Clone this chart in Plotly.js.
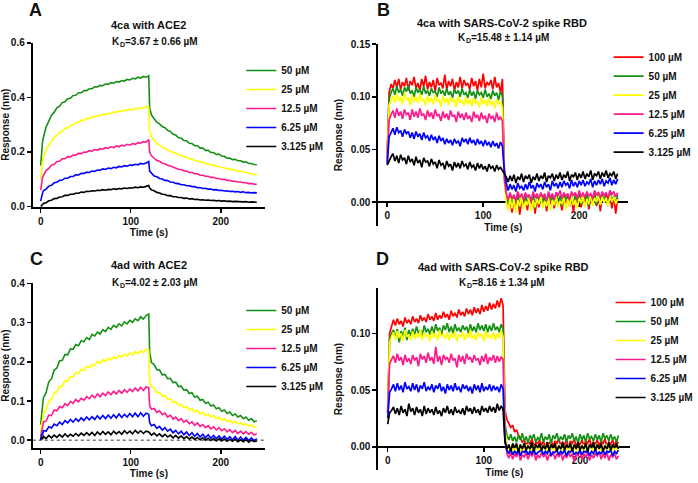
<!DOCTYPE html>
<html><head><meta charset="utf-8">
<script src="https://cdn.plot.ly/plotly-3.0.1.min.js"></script>
<style>html,body{margin:0;padding:0;background:#fff}#chart{width:698px;height:483px}</style>
</head><body><div id="chart"></div>
<script>
// ---------- time axes ----------
const timeAC = [0,1,2,3,6,9,12,15,18,21,24,27,30,33,36,39,42,45,48,51,54,57,60,63,66,69,72,75,78,81,84,87,90,93,96,99,102,105,108,111,114,117,120,121,123,126,129,132,135,138,141,144,147,150,153,156,159,162,165,168,171,174,177,180,183,186,189,192,195,198,201,204,207,210,213,216,219,222,225,228,231,234,237,240];
const timeBD = [0,2,4,6,8,10,12,14,16,18,20,22,24,26,28,30,32,34,36,38,40,42,44,46,48,50,52,54,56,58,60,62,64,66,68,70,72,74,76,78,80,82,84,86,88,90,92,94,96,98,100,102,104,106,108,110,112,114,116,118,120,122,124,126,128,130,132,134,136,138,140,142,144,146,148,150,152,154,156,158,160,162,164,166,168,170,172,174,176,178,180,182,184,186,188,190,192,194,196,198,200,202,204,206,208,210,212,214,216,218,220,222,224,226,228,230,232,234,236,238,240];

const labelsAC = ['50 µM','25 µM','12.5 µM','6.25 µM','3.125 µM'];
const labelsBD = ['100 µM','50 µM','25 µM','12.5 µM','6.25 µM','3.125 µM'];
const colorsAC = ['#149114','#ffff00','#ff1a8c','#0000ff','#000000'];
const colorsBD = ['#ff0000','#149114','#ffff00','#ff1a8c','#0000ff','#000000'];

// panel titles and dissociation constants
const titles = ['4ca with ACE2','4ca with SARS-CoV-2 spike RBD','4ad with ACE2','4ad with SARS-CoV-2 spike RBD'];
const kdValues = ['=3.67 ± 0.66 µM','=15.48 ± 1.14 µM','=4.02 ± 2.03 µM','=8.16 ± 1.34 µM'];
const panelLetters = ['A','B','C','D'];

// ---------- Panel A: 4ca with ACE2 ----------
const A_50 = [0.150,0.198,0.237,0.253,0.292,0.313,0.335,0.346,0.362,0.368,0.381,0.384,0.395,0.397,0.407,0.408,0.417,0.417,0.425,0.425,0.432,0.432,0.439,0.438,0.444,0.443,0.449,0.448,0.454,0.452,0.458,0.456,0.462,0.460,0.466,0.464,0.470,0.468,0.474,0.471,0.477,0.474,0.479,
0.362,0.336,0.322,0.309,0.303,0.293,0.289,0.279,0.275,0.265,0.262,0.252,0.251,0.242,0.241,0.232,0.231,0.223,0.223,0.214,0.214,0.206,0.206,0.198,0.198,0.191,0.192,0.185,0.184,0.177,0.178,0.172,0.173,0.168,0.168,0.163,0.164,0.158,0.158,0.154,0.153];
const A_25 = [0.100,0.142,0.163,0.182,0.203,0.227,0.238,0.254,0.260,0.273,0.276,0.287,0.289,0.298,0.299,0.308,0.308,0.316,0.316,0.323,0.322,0.329,0.328,0.334,0.333,0.339,0.337,0.341,0.341,0.347,0.345,0.351,0.348,0.354,0.352,0.357,0.354,0.360,0.358,0.363,0.360,0.366,0.364,
0.280,0.256,0.242,0.231,0.226,0.218,0.214,0.207,0.204,0.198,0.196,0.189,0.188,0.182,0.181,0.175,0.174,0.169,0.168,0.163,0.162,0.157,0.157,0.152,0.152,0.147,0.147,0.143,0.142,0.138,0.138,0.134,0.134,0.130,0.130,0.126,0.126,0.121,0.121,0.117,0.116];
const A_12_5 = [0.060,0.088,0.106,0.113,0.132,0.140,0.152,0.155,0.165,0.166,0.175,0.175,0.183,0.182,0.189,0.188,0.195,0.194,0.200,0.199,0.205,0.203,0.209,0.207,0.212,0.210,0.216,0.213,0.219,0.216,0.222,0.219,0.225,0.222,0.228,0.225,0.231,0.228,0.234,0.232,0.238,0.236,0.246,
0.200,0.186,0.177,0.169,0.166,0.159,0.157,0.151,0.149,0.144,0.142,0.137,0.136,0.131,0.130,0.125,0.125,0.120,0.120,0.115,0.115,0.111,0.111,0.107,0.107,0.103,0.103,0.099,0.100,0.096,0.096,0.093,0.093,0.090,0.090,0.087,0.087,0.084,0.085,0.082,0.082];
const A_6_25 = [0.020,0.041,0.049,0.058,0.064,0.075,0.078,0.087,0.089,0.096,0.097,0.104,0.104,0.110,0.110,0.116,0.116,0.122,0.121,0.126,0.125,0.130,0.129,0.134,0.133,0.138,0.136,0.141,0.139,0.144,0.142,0.147,0.145,0.150,0.148,0.152,0.151,0.155,0.153,0.158,0.156,0.160,0.165,
0.130,0.121,0.112,0.109,0.103,0.101,0.096,0.095,0.090,0.089,0.085,0.084,0.080,0.080,0.076,0.076,0.073,0.073,0.069,0.070,0.066,0.067,0.064,0.064,0.061,0.062,0.059,0.060,0.057,0.058,0.055,0.056,0.054,0.055,0.052,0.054,0.051,0.052,0.050,0.051,0.050];
const A_3_125 = [0.000,0.006,0.007,0.011,0.014,0.021,0.023,0.029,0.030,0.035,0.036,0.041,0.041,0.045,0.045,0.049,0.049,0.053,0.052,0.056,0.055,0.058,0.057,0.060,0.059,0.062,0.060,0.063,0.062,0.065,0.063,0.066,0.065,0.068,0.066,0.069,0.068,0.071,0.069,0.072,0.071,0.074,0.077,
0.068,0.061,0.058,0.052,0.050,0.045,0.044,0.040,0.040,0.036,0.036,0.033,0.033,0.030,0.031,0.028,0.029,0.026,0.027,0.024,0.025,0.023,0.024,0.022,0.023,0.021,0.022,0.020,0.021,0.019,0.020,0.018,0.019,0.018,0.019,0.017,0.018,0.016,0.017,0.016,0.016];

// ---------- Panel C: 4ad with ACE2 ----------
const C_50 = [0.040,0.073,0.087,0.108,0.122,0.149,0.157,0.179,0.184,0.203,0.204,0.219,0.218,0.233,0.232,0.244,0.241,0.254,0.251,0.262,0.257,0.270,0.266,0.276,0.271,0.282,0.277,0.288,0.283,0.293,0.288,0.297,0.292,0.302,0.297,0.306,0.301,0.310,0.305,0.315,0.309,0.318,0.322,
0.225,0.198,0.193,0.180,0.179,0.167,0.168,0.157,0.158,0.147,0.148,0.137,0.138,0.128,0.129,0.119,0.121,0.110,0.112,0.102,0.104,0.094,0.097,0.087,0.090,0.080,0.083,0.074,0.077,0.068,0.072,0.063,0.067,0.059,0.063,0.055,0.059,0.051,0.055,0.047,0.049];
const C_25 = [0.020,0.043,0.052,0.068,0.077,0.099,0.104,0.121,0.123,0.138,0.138,0.152,0.151,0.163,0.161,0.173,0.170,0.181,0.178,0.189,0.185,0.192,0.191,0.201,0.196,0.206,0.200,0.210,0.205,0.213,0.208,0.216,0.212,0.220,0.215,0.223,0.218,0.226,0.221,0.228,0.224,0.232,0.230,
0.150,0.136,0.133,0.121,0.122,0.112,0.114,0.104,0.106,0.096,0.098,0.089,0.092,0.083,0.086,0.077,0.081,0.072,0.076,0.067,0.071,0.063,0.067,0.059,0.063,0.055,0.059,0.051,0.055,0.047,0.051,0.044,0.048,0.041,0.045,0.038,0.042,0.036,0.039,0.033,0.035];
const C_12_5 = [0.010,0.028,0.032,0.046,0.049,0.064,0.063,0.077,0.075,0.086,0.083,0.093,0.088,0.099,0.094,0.104,0.098,0.107,0.102,0.111,0.106,0.115,0.108,0.118,0.111,0.120,0.114,0.123,0.116,0.125,0.118,0.127,0.120,0.129,0.122,0.131,0.124,0.133,0.126,0.135,0.127,0.136,0.134,
0.088,0.079,0.081,0.071,0.075,0.065,0.069,0.059,0.064,0.054,0.059,0.050,0.055,0.046,0.051,0.042,0.047,0.038,0.044,0.035,0.040,0.032,0.037,0.029,0.034,0.026,0.032,0.024,0.029,0.021,0.027,0.019,0.025,0.017,0.023,0.016,0.022,0.015,0.020,0.013,0.017];
const C_6_25 = [0.000,0.013,0.014,0.024,0.023,0.034,0.031,0.041,0.037,0.046,0.040,0.050,0.044,0.053,0.046,0.055,0.048,0.057,0.050,0.059,0.052,0.060,0.053,0.062,0.054,0.063,0.055,0.064,0.056,0.065,0.057,0.067,0.058,0.066,0.059,0.068,0.060,0.069,0.060,0.070,0.061,0.069,0.066,
0.045,0.037,0.040,0.030,0.035,0.026,0.032,0.023,0.028,0.019,0.025,0.016,0.023,0.014,0.021,0.012,0.019,0.010,0.017,0.008,0.015,0.006,0.014,0.005,0.012,0.004,0.011,0.003,0.010,0.002,0.009,0.001,0.009,0.000,0.008,0.000,0.007,-0.001,0.006,-0.001,0.004];
const C_3_125 = [0.003,0.008,0.002,0.010,0.004,0.012,0.006,0.013,0.007,0.014,0.008,0.016,0.009,0.015,0.010,0.017,0.011,0.018,0.012,0.019,0.013,0.020,0.012,0.021,0.014,0.022,0.015,0.021,0.014,0.023,0.016,0.022,0.015,0.024,0.017,0.023,0.016,0.025,0.018,0.024,0.017,0.023,0.021,
0.019,0.013,0.018,0.011,0.016,0.009,0.015,0.008,0.013,0.006,0.012,0.005,0.011,0.004,0.009,0.003,0.008,0.002,0.007,0.001,0.006,0.000,0.005,-0.001,0.004,-0.002,0.004,-0.002,0.003,-0.003,0.002,-0.003,0.002,-0.004,0.001,-0.004,0.001,-0.005,0.000,-0.004,-0.002];

// ---------- Panel B: 4ca with SARS-CoV-2 spike RBD ----------
const B_100 = [0.045,0.104,0.112,
0.108,0.116,0.109,0.117,0.107,0.114,0.110,0.118,0.106,0.115,
0.111,0.119,0.108,0.113,0.106,0.117,0.110,0.120,0.107,0.114,
0.109,0.116,0.105,0.118,0.111,0.113,0.108,0.121,0.107,0.115,
0.110,0.117,0.106,0.114,0.109,0.119,0.108,0.116,0.111,0.113,
0.107,0.118,0.110,0.115,0.106,0.117,0.109,0.122,0.108,0.114,
0.111,0.116,0.107,0.119,0.109,0.113,0.104,0.117,
0.030,0.004,-0.006,0.005,-0.010,0.003,-0.004,0.008,-0.012,0.002,
-0.003,0.006,-0.008,0.004,-0.002,0.007,-0.011,0.003,-0.005,0.006,
-0.001,0.008,-0.009,0.004,-0.003,0.007,-0.006,0.009,-0.002,0.003,
-0.008,0.006,-0.001,0.008,-0.004,0.005,-0.010,0.007,0.000,0.009,
-0.005,0.006,-0.002,0.008,-0.007,0.004,0.001,0.009,-0.004,0.007,
-0.009,0.006,0.001,0.008,-0.003,0.010,-0.006,0.005,-0.011,0.004];
const B_50 = [0.042,0.098,0.104,
0.108,0.102,0.110,0.104,0.107,0.101,0.109,0.105,0.111,0.103,
0.106,0.100,0.109,0.104,0.107,0.102,0.110,0.103,0.106,0.101,
0.108,0.104,0.105,0.100,0.109,0.103,0.106,0.101,0.108,0.102,
0.105,0.099,0.107,0.103,0.106,0.100,0.108,0.102,0.104,0.099,
0.107,0.101,0.105,0.098,0.106,0.102,0.104,0.099,0.107,0.100,
0.103,0.098,0.106,0.101,0.104,0.097,0.105,0.101,
0.025,0.006,-0.002,0.007,-0.004,0.005,0.000,0.008,-0.005,0.004,
0.001,0.007,-0.003,0.006,-0.001,0.008,-0.006,0.005,0.000,0.007,
-0.002,0.006,-0.004,0.008,0.001,0.005,-0.003,0.009,0.000,0.006,
-0.004,0.007,0.002,0.005,-0.002,0.008,-0.003,0.006,0.001,0.009,
-0.002,0.005,0.003,0.008,-0.004,0.007,0.001,0.006,-0.003,0.009,
0.000,0.007,0.002,0.005,-0.004,0.008,0.001,0.006,-0.002,0.007];
const B_25 = [0.040,0.092,0.097,
0.101,0.094,0.103,0.096,0.100,0.093,0.104,0.097,0.099,0.092,
0.102,0.095,0.100,0.094,0.103,0.096,0.098,0.092,0.101,0.095,
0.099,0.093,0.102,0.096,0.097,0.091,0.101,0.094,0.099,0.092,
0.100,0.095,0.098,0.090,0.101,0.094,0.097,0.092,0.100,0.093,
0.098,0.091,0.099,0.094,0.096,0.090,0.100,0.093,0.097,0.091,
0.099,0.092,0.096,0.089,0.098,0.093,0.095,0.090,
0.020,0.000,-0.008,0.004,-0.006,0.003,-0.010,0.002,-0.004,0.005,
-0.007,0.001,-0.003,0.004,-0.009,0.002,-0.005,0.003,-0.002,0.005,
-0.006,0.001,-0.004,0.004,-0.008,0.002,-0.003,0.005,-0.005,0.001,
-0.002,0.004,-0.007,0.003,-0.004,0.006,-0.003,0.002,-0.006,0.004,
-0.001,0.005,-0.005,0.003,-0.002,0.006,-0.004,0.004,0.000,0.006,
-0.003,0.005,-0.001,0.004,-0.004,0.006,0.000,0.005,-0.002,0.003];
const B_12_5 = [0.038,0.078,0.083,
0.087,0.080,0.089,0.082,0.086,0.079,0.088,0.083,0.085,0.078,
0.088,0.081,0.086,0.080,0.089,0.082,0.084,0.078,0.087,0.081,
0.085,0.079,0.088,0.082,0.083,0.077,0.086,0.080,0.084,0.078,
0.087,0.081,0.083,0.076,0.086,0.080,0.084,0.078,0.085,0.079,
0.082,0.076,0.086,0.080,0.083,0.077,0.085,0.079,0.082,0.075,
0.084,0.079,0.082,0.076,0.085,0.078,0.081,0.077,
0.022,0.008,0.002,0.009,0.003,0.007,0.001,0.010,0.004,0.008,
0.002,0.009,0.005,0.007,0.000,0.010,0.004,0.008,0.003,0.009,
0.005,0.007,0.001,0.010,0.004,0.008,0.002,0.009,0.006,0.011,
0.003,0.009,0.005,0.008,0.002,0.010,0.006,0.009,0.003,0.011,
0.005,0.009,0.004,0.010,0.006,0.008,0.003,0.011,0.007,0.009,
0.004,0.010,0.006,0.009,0.003,0.011,0.007,0.010,0.005,0.009];
const B_6_25 = [0.036,0.062,0.066,
0.070,0.064,0.071,0.066,0.068,0.062,0.069,0.065,0.067,0.061,
0.066,0.060,0.067,0.062,0.065,0.059,0.066,0.061,0.063,0.058,
0.064,0.059,0.062,0.056,0.063,0.058,0.061,0.055,0.060,0.056,
0.059,0.054,0.060,0.056,0.058,0.053,0.061,0.057,0.060,0.055,
0.061,0.056,0.059,0.054,0.060,0.055,0.058,0.053,0.059,0.054,
0.057,0.052,0.058,0.053,0.056,0.051,0.057,0.053,
0.030,0.018,0.011,0.017,0.012,0.016,0.010,0.018,0.013,0.015,
0.011,0.017,0.012,0.019,0.013,0.016,0.010,0.018,0.014,0.017,
0.012,0.019,0.014,0.017,0.011,0.020,0.015,0.018,0.013,0.019,
0.014,0.020,0.016,0.018,0.013,0.021,0.015,0.019,0.014,0.020,
0.016,0.021,0.015,0.019,0.017,0.022,0.014,0.020,0.016,0.021,
0.017,0.022,0.015,0.020,0.018,0.023,0.016,0.021,0.017,0.022];
const B_3_125 = [0.035,0.040,0.043,
0.046,0.039,0.044,0.037,0.045,0.040,0.042,0.036,0.044,0.038,
0.041,0.035,0.043,0.037,0.040,0.033,0.042,0.038,0.039,0.034,
0.041,0.036,0.038,0.032,0.040,0.035,0.037,0.031,0.039,0.034,
0.036,0.030,0.038,0.033,0.037,0.032,0.039,0.034,0.036,0.031,
0.038,0.033,0.035,0.030,0.037,0.032,0.036,0.031,0.034,0.029,
0.036,0.032,0.034,0.029,0.035,0.031,0.033,0.030,
0.028,0.024,0.019,0.025,0.020,0.026,0.018,0.024,0.021,0.027,
0.019,0.025,0.022,0.026,0.018,0.024,0.021,0.027,0.020,0.025,
0.022,0.028,0.019,0.025,0.023,0.027,0.020,0.026,0.022,0.028,
0.021,0.026,0.023,0.029,0.020,0.026,0.024,0.028,0.021,0.027,
0.023,0.029,0.022,0.027,0.024,0.030,0.021,0.027,0.025,0.029,
0.022,0.028,0.024,0.030,0.023,0.027,0.025,0.029,0.022,0.027];

// ---------- Panel D: 4ad with SARS-CoV-2 spike RBD ----------
const D_100 = [0.030,0.100,0.106,
0.112,0.107,0.113,0.108,0.111,0.106,0.114,0.109,0.112,0.108,
0.115,0.110,0.113,0.109,0.116,0.111,0.114,0.110,0.117,0.112,
0.115,0.111,0.118,0.112,0.116,0.113,0.119,0.114,0.117,0.112,
0.120,0.115,0.118,0.114,0.121,0.116,0.119,0.115,0.122,0.117,
0.121,0.116,0.123,0.118,0.122,0.117,0.125,0.119,0.124,0.120,
0.127,0.121,0.126,0.122,0.129,0.123,0.131,0.125,
0.032,0.024,0.021,0.017,0.019,0.013,0.015,0.010,0.008,0.004,
0.006,0.001,0.005,0.002,0.007,0.000,0.004,0.003,0.006,0.001,
0.005,-0.001,0.004,0.002,0.006,0.000,0.005,0.003,0.007,0.001,
0.004,0.002,0.006,-0.001,0.005,0.003,0.007,0.000,0.004,0.002,
0.006,0.001,0.005,0.003,0.007,0.000,0.004,0.002,0.006,0.001,
0.005,0.003,0.007,0.000,0.004,0.002,0.006,0.001,0.005,0.003];
const D_50 = [0.030,0.095,0.100,
0.103,0.096,0.104,0.092,0.102,0.097,0.105,0.094,0.103,0.098,
0.104,0.099,0.106,0.100,0.103,0.098,0.107,0.101,0.104,0.099,
0.106,0.100,0.108,0.102,0.105,0.099,0.107,0.103,0.109,0.101,
0.106,0.100,0.108,0.102,0.105,0.101,0.107,0.103,0.106,0.100,
0.108,0.102,0.106,0.101,0.109,0.103,0.107,0.102,0.108,0.101,
0.107,0.102,0.109,0.103,0.106,0.101,0.108,0.104,
0.020,0.010,0.006,0.011,0.005,0.009,0.004,0.010,0.006,0.012,
0.005,0.009,0.003,0.010,0.007,0.011,0.004,0.008,0.006,0.012,
0.004,0.009,0.006,0.011,0.003,0.010,0.007,0.012,0.005,0.009,
0.006,0.011,0.004,0.010,0.007,0.012,0.005,0.009,0.003,0.011,
0.006,0.010,0.004,0.012,0.007,0.009,0.005,0.011,0.006,0.010,
0.004,0.012,0.007,0.010,0.005,0.011,0.006,0.009,0.004,0.010];
const D_25 = [0.030,0.092,0.097,
0.101,0.094,0.102,0.096,0.100,0.093,0.103,0.097,0.099,0.094,
0.102,0.095,0.100,0.096,0.103,0.094,0.101,0.097,0.099,0.093,
0.102,0.096,0.100,0.094,0.103,0.097,0.099,0.095,0.101,0.094,
0.100,0.096,0.102,0.093,0.099,0.097,0.101,0.094,0.100,0.096,
0.103,0.095,0.099,0.094,0.101,0.097,0.100,0.093,0.102,0.096,
0.099,0.095,0.101,0.094,0.100,0.096,0.102,0.097,
0.015,0.002,-0.004,0.001,-0.005,0.000,-0.003,0.002,-0.006,0.001,
-0.004,0.002,-0.002,0.000,-0.005,0.001,-0.003,0.002,-0.004,0.000,
-0.002,0.001,-0.005,0.002,-0.003,0.000,-0.004,0.001,-0.002,0.002,
-0.005,0.000,-0.003,0.002,-0.004,0.001,-0.002,0.000,-0.005,0.001,
-0.003,0.002,-0.004,0.000,-0.002,0.001,-0.005,0.002,-0.003,0.000,
-0.004,0.001,-0.002,0.002,-0.005,0.000,-0.003,0.001,-0.004,0.002];
const D_12_5 = [0.030,0.073,0.077,
0.080,0.074,0.082,0.076,0.079,0.072,0.081,0.075,0.078,0.073,
0.081,0.076,0.079,0.071,0.082,0.077,0.080,0.074,0.083,0.076,
0.079,0.073,0.088,0.075,0.080,0.072,0.081,0.077,0.079,0.074,
0.082,0.076,0.078,0.070,0.081,0.075,0.080,0.073,0.082,0.077,
0.079,0.074,0.081,0.076,0.078,0.072,0.080,0.075,0.082,0.073,
0.079,0.076,0.081,0.074,0.080,0.075,0.079,0.077,
0.008,-0.006,-0.010,-0.005,-0.011,-0.006,-0.009,-0.004,-0.012,-0.007,
-0.009,-0.005,-0.011,-0.006,-0.008,-0.004,-0.012,-0.007,-0.010,-0.005,
-0.009,-0.006,-0.012,-0.007,-0.008,-0.004,-0.011,-0.006,-0.009,-0.005,
-0.012,-0.007,-0.010,-0.005,-0.009,-0.006,-0.013,-0.007,-0.008,-0.004,
-0.011,-0.006,-0.009,-0.005,-0.012,-0.007,-0.010,-0.006,-0.008,-0.004,
-0.011,-0.006,-0.010,-0.005,-0.012,-0.007,-0.009,-0.006,-0.011,-0.008];
const D_6_25 = [0.025,0.048,0.051,
0.055,0.049,0.056,0.050,0.054,0.048,0.057,0.051,0.053,0.049,
0.056,0.050,0.055,0.048,0.054,0.051,0.057,0.049,0.053,0.050,
0.055,0.048,0.054,0.051,0.056,0.049,0.053,0.047,0.055,0.050,
0.054,0.049,0.056,0.050,0.053,0.048,0.055,0.051,0.054,0.049,
0.053,0.047,0.055,0.050,0.054,0.048,0.056,0.049,0.053,0.050,
0.055,0.049,0.054,0.050,0.053,0.048,0.055,0.051,
0.005,-0.003,-0.006,-0.002,-0.007,-0.004,-0.006,-0.002,-0.008,-0.004,
-0.005,-0.003,-0.007,-0.004,-0.006,-0.002,-0.007,-0.005,-0.004,-0.003,
-0.007,-0.004,-0.006,-0.002,-0.008,-0.005,-0.005,-0.003,-0.007,-0.004,
-0.006,-0.003,-0.008,-0.004,-0.005,-0.002,-0.007,-0.005,-0.006,-0.003,
-0.007,-0.004,-0.005,-0.003,-0.008,-0.004,-0.006,-0.002,-0.007,-0.005,
-0.006,-0.003,-0.007,-0.004,-0.005,-0.003,-0.008,-0.004,-0.006,-0.003];
const D_3_125 = [0.020,0.030,0.032,
0.035,0.029,0.034,0.028,0.036,0.030,0.033,0.027,0.038,0.031,
0.034,0.028,0.035,0.030,0.033,0.027,0.036,0.029,0.034,0.030,
0.033,0.028,0.035,0.029,0.032,0.027,0.034,0.030,0.036,0.029,
0.033,0.028,0.035,0.030,0.032,0.029,0.034,0.028,0.036,0.031,
0.034,0.029,0.035,0.030,0.033,0.028,0.036,0.031,0.034,0.030,
0.036,0.031,0.035,0.030,0.038,0.032,0.036,0.033,
0.004,-0.002,0.002,-0.004,0.003,-0.001,0.003,-0.005,0.002,-0.002,
0.003,-0.003,0.001,-0.002,0.004,-0.004,0.002,-0.001,0.003,-0.003,
0.001,-0.002,0.004,-0.003,0.002,-0.001,0.003,-0.004,0.001,-0.002,
0.004,-0.003,0.002,-0.001,0.003,-0.004,0.002,-0.002,0.004,-0.003,
0.001,-0.002,0.003,-0.004,0.002,-0.001,0.004,-0.003,0.002,-0.002,
0.003,-0.004,0.001,-0.002,0.004,-0.003,0.002,-0.001,0.003,-0.002];

// ---------- build traces ----------
const panels = [
  {series:[A_50,A_25,A_12_5,A_6_25,A_3_125], t:timeAC, labels:labelsAC, colors:colorsAC, xa:'x',  ya:'y',  lg:'legend',  w:1.6},
  {series:[B_100,B_50,B_25,B_12_5,B_6_25,B_3_125], t:timeBD, labels:labelsBD, colors:colorsBD, xa:'x2', ya:'y2', lg:'legend2', w:1.7},
  {series:[C_50,C_25,C_12_5,C_6_25,C_3_125], t:timeAC, labels:labelsAC, colors:colorsAC, xa:'x3', ya:'y3', lg:'legend3', w:1.6},
  {series:[D_100,D_50,D_25,D_12_5,D_6_25,D_3_125], t:timeBD, labels:labelsBD, colors:colorsBD, xa:'x4', ya:'y4', lg:'legend4', w:1.7}
];
const traces = [];
panels.forEach(p => {
  p.series.forEach((s, i) => {
    traces.push({type:'scatter', mode:'lines', x:p.t, y:s, name:p.labels[i],
      line:{color:p.colors[i], width:p.w}, xaxis:p.xa, yaxis:p.ya, legend:p.lg, hoverinfo:'skip'});
  });
});

const FONT = 'Liberation Sans, Arial, sans-serif';
const bold = (size) => ({family:FONT, size:size, color:'#111', weight:'bold'});
const W = 698, H = 483;
const px = v => v / W, py = v => 1 - v / H;

function yax(domain, range, dtick, fmt, anchor, stand) {
  return {domain, range, dtick, tick0:0, tickformat:fmt, anchor,
    showline:true, linecolor:'#000', linewidth:2, ticks:'outside', ticklen:4, tickwidth:1.5, tickcolor:'#000',
    showgrid:false, zeroline:false, tickfont:bold(10),
    title:{text:'Response (nm)', font:bold(10), standoff:stand}};
}
function xax(domain, range, anchor, extra) {
  return Object.assign({domain, range, tickvals:[0,100,200], anchor,
    showline:true, linecolor:'#000', linewidth:2, ticks:'outside', ticklen:4, tickwidth:1.5, tickcolor:'#000',
    showgrid:false, zeroline:false, tickfont:bold(10),
    title:{text:'Time (s)', font:bold(10), standoff:3}}, extra || {});
}
function leg(x, y) {
  return {x:px(x), y:py(y), xanchor:'left', yanchor:'top', bgcolor:'rgba(0,0,0,0)', font:bold(10), borderwidth:0};
}
function ann(text, x, y, size, xanchor) {
  return {text, x:px(x), y:py(y), xref:'paper', yref:'paper', xanchor:xanchor || 'center', yanchor:'middle', showarrow:false, font:bold(size)};
}
// K with a subscript D, drawn as separate texts so each has a real size
function kd(value, xEq, y) {
  return [ann('K', xEq - 1.5, y, 10, 'right'), ann('D', xEq + 3.5, y + 3, 7, 'right'), ann(value, xEq, y, 10, 'left')];
}

const layout = {
  width:W, height:H, margin:{l:0, r:0, t:0, b:0}, paper_bgcolor:'#fff', plot_bgcolor:'rgba(0,0,0,0)',
  showlegend:true,
  xaxis:  xax([px(33), px(267)], [-8.8, 249.2], 'y'),
  yaxis:  yax([py(206.7), py(42.7)], [-0.0005, 0.6005], 0.2, '.1f', 'x', 3),
  xaxis2: xax([px(381), px(633)], [-9.3, 251.3], 'free', {position: py(202), layer:'below traces'}),
  yaxis2: yax([py(226), py(44)], [-0.0228, 0.1502], 0.05, '.2f', 'x2', 6),
  xaxis3: xax([px(33), px(267)], [-8.8, 249.2], 'y3'),
  yaxis3: yax([py(448), py(283.3)], [-0.02, 0.4005], 0.1, '.1f', 'x3', 3),
  xaxis4: xax([px(381), px(635)], [-9.8, 252.5], 'free', {position: py(446.7), layer:'below traces'}),
  yaxis4: yax([py(470), py(288)], [-0.0205, 0.14], 0.05, '.2f', 'x4', 6),
  legend:  leg(243, 56),
  legend2: leg(613, 42.7),
  legend3: leg(243, 296),
  legend4: leg(615, 288),
  shapes: [{type:'line', xref:'x3 domain', x0:0, x1:1, yref:'y3', y0:0, y1:0, line:{color:'#333', width:1, dash:'dot'}, layer:'below'}],
  annotations: [
    ann(panelLetters[0], 36, 10, 18), ann(panelLetters[1], 386, 10, 18), ann(panelLetters[2], 37, 259, 18), ann(panelLetters[3], 385, 259, 18),
    ann(titles[0], 150, 25, 11), ann(titles[1], 506, 23.3, 11), ann(titles[2], 150, 265, 11), ann(titles[3], 507, 266.7, 11),
    ...kd(kdValues[0], 124, 41.5), ...kd(kdValues[1], 472.5, 37.5), ...kd(kdValues[2], 124, 282.7), ...kd(kdValues[3], 473.5, 282.7)
  ]
};

Plotly.newPlot('chart', traces, layout, {staticPlot:true, displayModeBar:false});
</script></body></html>
